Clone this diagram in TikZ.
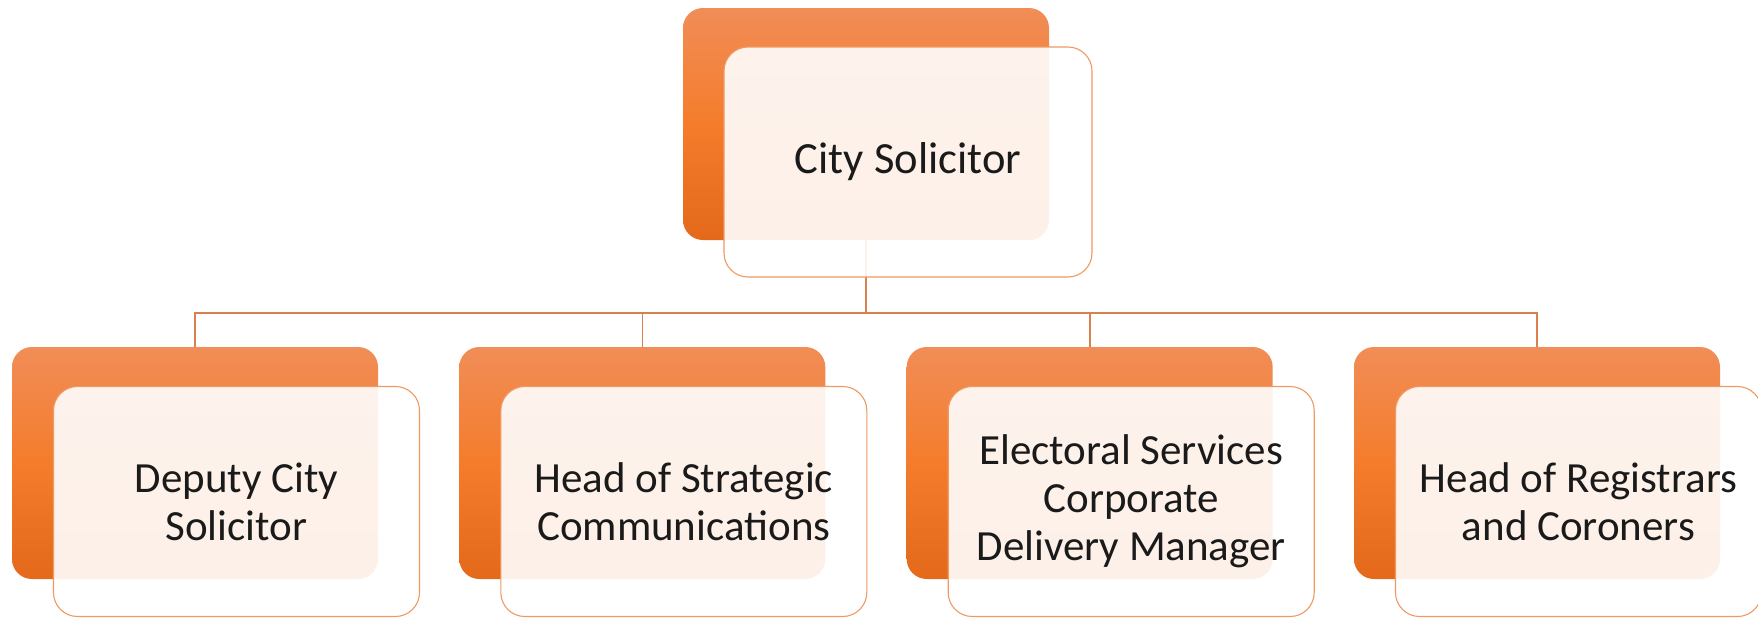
\documentclass[tikz,border=0pt]{standalone}
\usepackage{fontspec}
\setmainfont{Carlito}
\definecolor{otop}{HTML}{F18D57}
\definecolor{omid}{HTML}{F47C2B}
\definecolor{obot}{HTML}{E4691B}
\definecolor{wedge}{HTML}{EE9A63}
\definecolor{link}{HTML}{D9804C}
\definecolor{ink}{HTML}{1A1A1A}
\begin{document}
\begin{tikzpicture}[x={(0.5pt,0)},y={(0,-0.5pt)},
  back/.style={rectangle,rounded corners=10pt,minimum width=183pt,minimum height=116pt,
    inner sep=0pt,top color=otop,bottom color=obot,middle color=omid,draw=none},
  front/.style={rectangle,rounded corners=12pt,minimum width=183pt,minimum height=115pt,
    inner sep=0pt,fill=white,fill opacity=0.9,text opacity=1,draw=wedge,line width=0.55pt,
    text=ink,align=center,font=\fontsize{21.5}{24}\selectfont},
  conn/.style={draw=link,line width=0.8pt}]
\useasboundingbox (0,0) rectangle (1758,617);
% back boxes
\node[back] (p0) at (866,124) {};
\node[back] (p1) at (195,463) {};
\node[back] (p2) at (642.3,463) {};
\node[back] (p3) at (1089.7,463) {};
\node[back] (p4) at (1537,463) {};
% connectors
\coordinate (bus) at (866,313);
\draw[conn] (p0.south) -- (bus);
\draw[conn] (bus) -| (p1.north);
\draw[conn] (bus) -| (p2.north);
\draw[conn] (bus) -| (p3.north);
\draw[conn] (bus) -| (p4.north);
% front boxes
\node[front,minimum width=184pt,font=\fontsize{22.3}{25}\selectfont] (q0) at (908,162) {City Solicitor};
\node[front] (q1) at (236.5,501.5) {Deputy City\\Solicitor};
\node[front] (q2) at (683.8,501.5) {Head of Strategic\\Communications};
\node[front] (q3) at (1131.2,501.5) {Electoral Services\\Corporate\\Delivery Manager};
\node[front] (q4) at (1578.5,501.5) {Head of Registrars\\and Coroners};
\end{tikzpicture}
\end{document}
